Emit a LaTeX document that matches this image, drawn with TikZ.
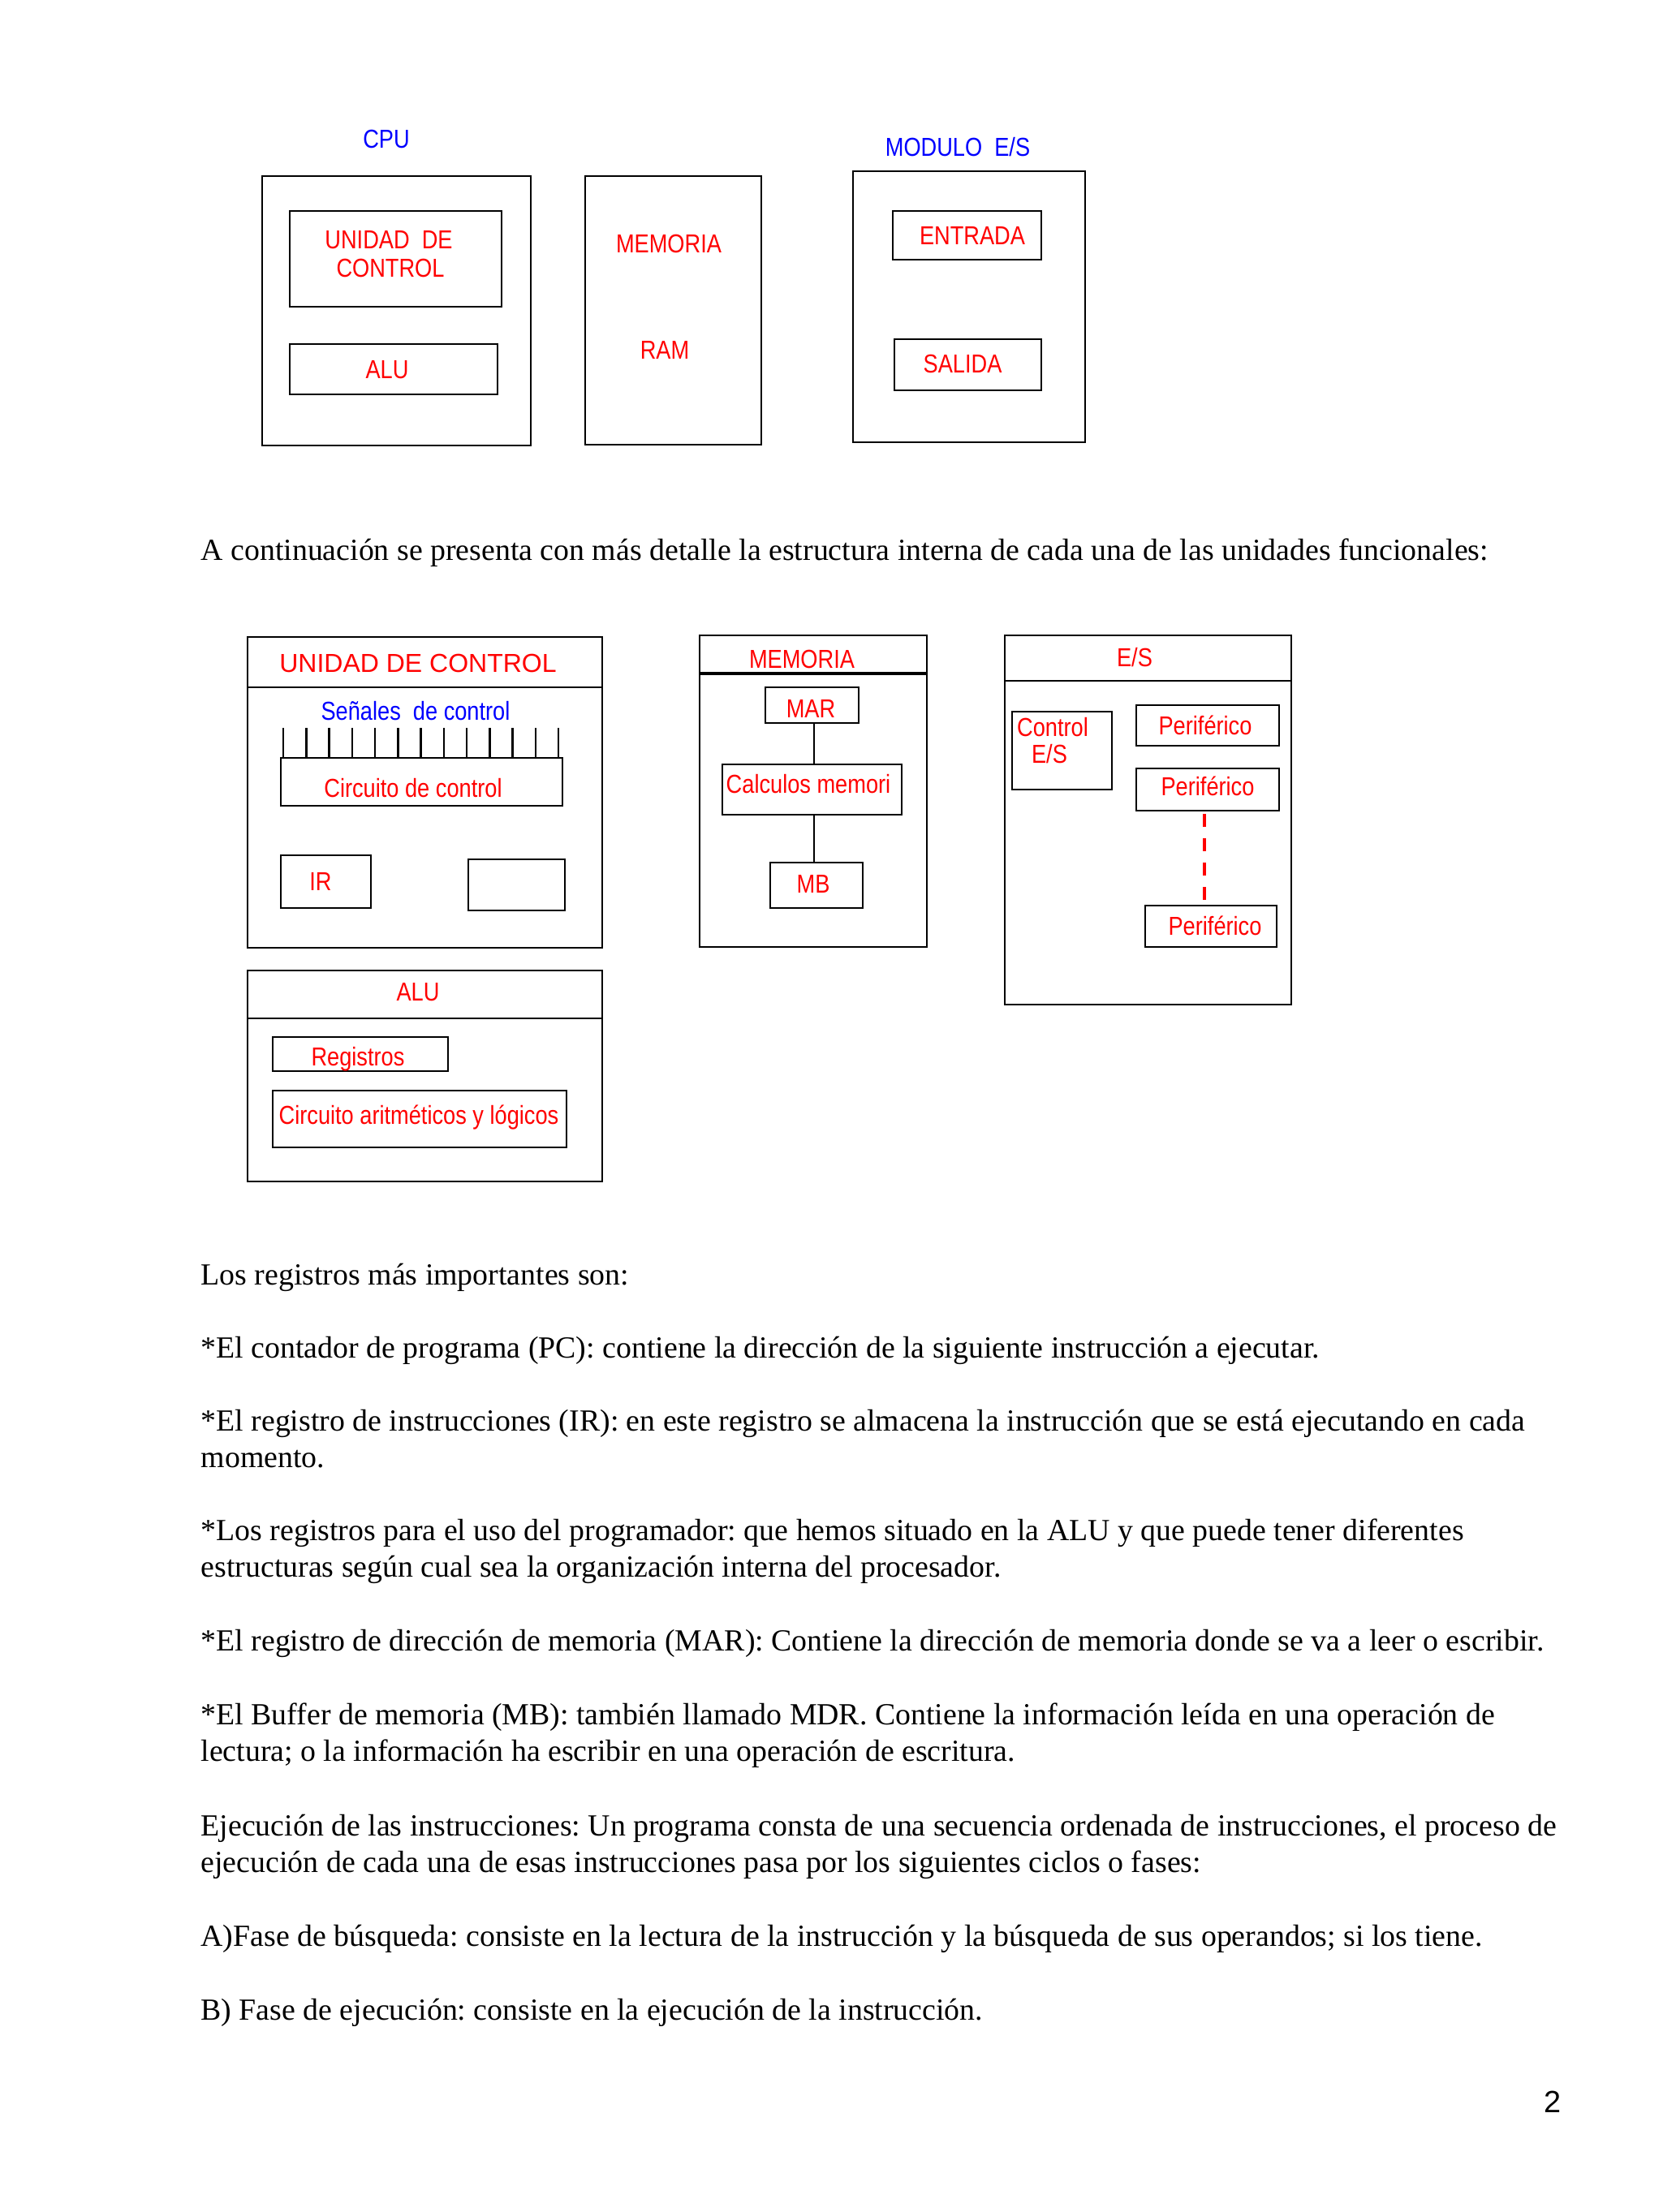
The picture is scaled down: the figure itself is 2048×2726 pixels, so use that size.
\documentclass[tikz,border=0pt]{standalone}
\usepackage{fontspec}
\usetikzlibrary{fit}
\newfontfamily\bodyfnt{Liberation Serif}
\newfontfamily\dgfnt[FakeStretch=0.85]{Liberation Sans}
\newfontfamily\dgwide{Liberation Sans}
\newfontfamily\numfnt{Liberation Sans}
\frenchspacing
\begin{document}
\begin{tikzpicture}[x=0.3pt,y=-0.3pt,
  box/.style={draw=black, line width=0.75pt, inner sep=0pt, outer sep=0pt},
  lbl/.style={text=red, anchor=base, inner sep=0pt, font=\dgfnt\fontsize{9.6pt}{11pt}\selectfont},
  blbl/.style={lbl, text=blue},
  para/.style={anchor=base west, inner sep=0pt, font=\bodyfnt\fontsize{11.35pt}{13.5pt}\selectfont},
  hdr/.style={line width=0.75pt},
  conn/.style={line width=0.75pt}]
\useasboundingbox[fill=white] (0,0) rectangle (2048,2726);

% ---------- Top diagram ----------
\node[blbl] (cpulbl) at (476,183) {CPU};
\node[blbl] (modlbl) at (1180,193) {MODULO\ \ E/S};
\node[box, fit={(323,217) (654,549)}] (cpu) {};
\node[box, fit={(357,260) (618,378)}] (udc) {};
\node[lbl] (udct1) at (479,307) {UNIDAD\ \ DE};
\node[lbl] (udct2) at (481,342) {CONTROL};
\node[box, fit={(357,424) (613,486)}] (alu) {};
\node[lbl] (alut) at (477,467) {ALU};
\node[box, fit={(721,217) (938,548)}] (mem) {};
\node[lbl] (memt) at (824,312) {MEMORIA};
\node[lbl] (ramt) at (819,443) {RAM};
\node[box, fit={(1051,211) (1337,545)}] (mod) {};
\node[box, fit={(1100,260) (1283,320)}] (ent) {};
\node[lbl] (entt) at (1198,302) {ENTRADA};
\node[box, fit={(1102,418) (1283,481)}] (sal) {};
\node[lbl] (salt) at (1186,460) {SALIDA};

% ---------- Body text (1) ----------
\node[para] (p0) at (247,690) {A continuación se presenta con más detalle la estructura interna de cada una de las unidades funcionales:};

% ---------- Unidad de control ----------
\node[box, fit={(305,785) (742,1168)}] (ucb) {};
\draw[hdr] (ucb.west |- 0,847) -- (ucb.east |- 0,847);
\node[lbl, font=\dgwide\fontsize{9.6pt}{11pt}\selectfont] (uct) at (515,828) {UNIDAD DE CONTROL};
\node[blbl] (senal) at (512,887) {Señales\ \ de control};
\node[box, fit={(346,934) (693,993)}] (circ) {};
\foreach \i in {0,...,12} {
  \draw[conn] ({349+\i*28.25},897) -- ({349+\i*28.25},934);
}
\node[lbl] (circt) at (509,982) {Circuito de control};
\node[box, fit={(346,1054) (457,1119)}] (ir) {};
\node[lbl] (irt) at (395,1097) {IR};
\node[box, fit={(577,1059) (696,1122)}] (emp) {};

% ---------- Memoria ----------
\node[box, fit={(862,783) (1142,1167)}] (memb) {};
\draw[line width=1.2pt] (memb.west |- 0,830) -- (memb.east |- 0,830);
\node[lbl] (membt) at (988,823) {MEMORIA};
\node[box, fit={(943,847) (1058,891)}] (mar) {};
\node[lbl] (mart) at (999,884) {MAR};
\node[box, fit={(890,942) (1111,1004)}] (calc) {};
\node[lbl] (calct) at (996,977) {Calculos memori};
\node[box, fit={(949,1063) (1063,1119)}] (mb) {};
\node[lbl] (mbt) at (1002,1100) {MB};
\draw[conn] (1003,891) coordinate (c1) -- (c1 |- calc.north);
\draw[conn] (1003,1004) coordinate (c2) -- (c2 |- mb.north);

% ---------- E/S ----------
\node[box, fit={(1238,783) (1591,1238)}] (esb) {};
\draw[hdr] (esb.west |- 0,839) -- (esb.east |- 0,839);
\node[lbl] (esbt) at (1398,821) {E/S};
\node[box, fit={(1247,877) (1370,973)}] (ctl) {};
\node[lbl] (ctlt1) at (1297,907) {Control};
\node[lbl] (ctlt2) at (1293,940) {E/S};
\node[box, fit={(1400,869) (1576,919)}] (per1) {};
\node[lbl] (per1t) at (1485,905) {Periférico};
\node[box, fit={(1400,947) (1576,999)}] (per2) {};
\node[lbl] (per2t) at (1488,980) {Periférico};
\node[box, fit={(1411,1116) (1573,1167)}] (per3) {};
\node[lbl] (per3t) at (1497,1152) {Periférico};
\coordinate (d1) at (1484,1003);
\coordinate (d2) at (1484,1110);
\draw[red, line width=1.2pt, dash pattern=on 4.8pt off 4.2pt] (d1) -- (d2);

% ---------- ALU ----------
\node[box, fit={(305,1196) (742,1456)}] (alub) {};
\draw[hdr] (alub.west |- 0,1255) -- (alub.east |- 0,1255);
\node[lbl] (alubt) at (515,1233) {ALU};
\node[box, fit={(336,1278) (552,1320)}] (reg) {};
\node[lbl] (regt) at (441,1313) {Registros};
\node[box, fit={(336,1344) (698,1414)}] (cal) {};
\node[lbl] (calt) at (516,1385) {Circuito aritméticos y lógicos};

% ---------- Body text (2) ----------
\node[para] (t1) at (247,1583) {Los registros más importantes son:};
\node[para] (t2) at (247,1673) {*El contador de programa (PC): contiene la dirección de la siguiente instrucción a ejecutar.};
\node[para] (t3) at (247,1763) {*El registro de instrucciones (IR): en este registro se almacena la instrucción que se está ejecutando en cada};
\node[para] (t4) at (247,1808) {momento.};
\node[para] (t5) at (247,1898) {*Los registros para el uso del programador: que hemos situado en la ALU y que puede tener diferentes};
\node[para] (t6) at (247,1943) {estructuras según cual sea la organización interna del procesador.};
\node[para] (t7) at (247,2034) {*El registro de dirección de memoria (MAR): Contiene la dirección de memoria donde se va a leer o escribir.};
\node[para] (t8) at (247,2125) {*El Buffer de memoria (MB): también llamado MDR. Contiene la información leída en una operación de};
\node[para] (t9) at (247,2170) {lectura; o la información ha escribir en una operación de escritura.};
\node[para] (t10) at (247,2262) {Ejecución de las instrucciones: Un programa consta de una secuencia ordenada de instrucciones, el proceso de};
\node[para] (t11) at (247,2307) {ejecución de cada una de esas instrucciones pasa por los siguientes ciclos o fases:};
\node[para] (t12) at (247,2398) {A)Fase de búsqueda: consiste en la lectura de la instrucción y la búsqueda de sus operandos; si los tiene.};
\node[para] (t13) at (247,2489) {B) Fase de ejecución: consiste en la ejecución de la instrucción.};
\node[anchor=base east, inner sep=0pt, font=\numfnt\fontsize{11.35pt}{13.5pt}\selectfont] (pg) at (1924,2603) {2};
\end{tikzpicture}
\end{document}
